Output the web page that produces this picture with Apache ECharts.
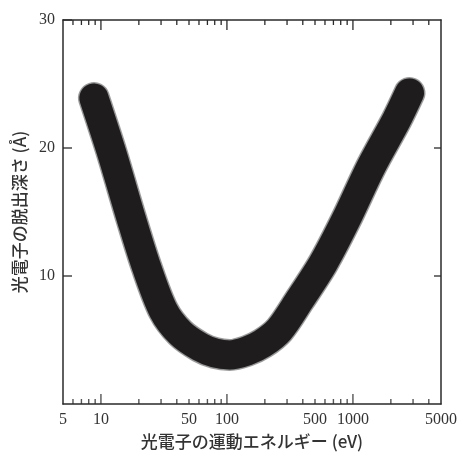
<!DOCTYPE html>
<html>
<head>
<meta charset="utf-8">
<script src="https://cdn.jsdelivr.net/npm/echarts@6/dist/echarts.min.js"></script>
<style>html,body{margin:0;padding:0;background:#fff;}#c{width:458px;height:452px;}</style>
</head>
<body>
<div id="c"></div>
<script>
// Kinetic energy of photoelectron (eV) and escape depth (Å) along the band centre
const energy = [8.8, 12.2, 17.5, 23.0, 31.3, 42.6, 61.3, 80.4, 105, 144, 192, 261, 376, 581, 881, 1387, 2220, 2810];
const depth  = [23.9, 19.6, 14.4, 10.7, 7.3, 5.55, 4.45, 3.98, 3.83, 4.14, 4.73, 5.8, 8.1, 11.0, 14.4, 18.5, 22.2, 24.3];
const xLabels = [5, 10, 50, 100, 500, 1000, 5000];
const xMajorTicks = [10, 100, 1000];
const xMinorTicks = [6, 7, 8, 9, 20, 30, 40, 50, 60, 70, 80, 90, 200, 300, 400, 500, 600, 700, 800, 900, 2000, 3000, 4000];
const yTicks = [10, 20, 30];
const yRightTicks = [10, 20];
const xName = '光電子の運動エネルギー (eV)';
const yName = '光電子の脱出深さ (Å)';
const xMin = 5, xMax = 5000, yMin = 0, yMax = 30;

const pts = energy.map((e, i) => [e, depth[i]]);
const ink = '#2a2a2a';
const numFont = '"Liberation Serif", "DejaVu Serif", serif';
const cjkFont = '"Noto Sans CJK JP", sans-serif';

const xTickList = xMajorTicks.map(v => [v, 10]).concat(xMinorTicks.map(v => [v, 5]));
const yTickList = yTicks.map(v => [xMin, v, 9]).concat(yRightTicks.map(v => [xMax, v, -7]));

const frame = { show: true, onZero: false, lineStyle: { color: ink, width: 1.5 } };

// bottom inward ticks as small bar-shaped symbols anchored at y = yMin
const bottomTickPts = xTickList.map(([v, len]) => ({
  value: [v, yMin],
  symbolSize: [1.4, len],
  symbolOffset: [0, -len / 2]
}));

const chart = echarts.init(document.getElementById('c'), null, { renderer: 'canvas' });
chart.setOption({
  animation: false,
  backgroundColor: '#fff',
  grid: { left: 63, right: 17, top: 20, bottom: 48, containLabel: false, outerBoundsMode: 'none', show: false },
  xAxis: [
    {
      type: 'log', logBase: 10, min: xMin, max: xMax, position: 'bottom',
      axisLine: frame, axisTick: { show: false }, splitLine: { show: false },
      axisLabel: { show: true, customValues: xLabels, margin: 8, color: '#333', fontFamily: numFont, fontSize: 16,
        formatter: v => String(Math.round(v)) },
      name: xName, nameLocation: 'middle', nameGap: 29,
      nameTextStyle: { fontFamily: cjkFont, fontSize: 17, color: '#333', fontWeight: 500 }
    },
    {
      type: 'log', logBase: 10, min: xMin, max: xMax, position: 'top',
      axisLine: frame, axisTick: { show: false }, splitLine: { show: false }, axisLabel: { show: false }
    }
  ],
  yAxis: [
    {
      type: 'value', min: yMin, max: yMax, interval: 10, position: 'left',
      axisLine: frame, axisTick: { show: false }, splitLine: { show: false },
      axisLabel: { show: true, customValues: yTicks, margin: 8, color: '#333', fontFamily: numFont, fontSize: 16 },
      name: yName, nameLocation: 'middle', nameGap: 27,
      nameTextStyle: { fontFamily: cjkFont, fontSize: 17, color: '#333', fontWeight: 500 }
    },
    {
      type: 'value', min: yMin, max: yMax, interval: 10, position: 'right',
      axisLine: frame, axisTick: { show: false }, splitLine: { show: false }, axisLabel: { show: false }
    }
  ],
  series: [
    {
      type: 'line', data: pts, xAxisIndex: 0, yAxisIndex: 0, symbol: 'none', smooth: 0.3,
      lineStyle: { color: 'rgba(30,30,30,0.4)', width: 32, cap: 'round', join: 'round' },
      z: 1, silent: true
    },
    {
      type: 'line', data: pts, xAxisIndex: 0, yAxisIndex: 0, symbol: 'none', smooth: 0.3,
      lineStyle: { color: '#1e1c1d', width: 29, cap: 'round', join: 'round', shadowColor: 'rgba(0,0,0,0.4)', shadowBlur: 2 },
      z: 2, silent: true
    },
    {
      type: 'scatter', data: bottomTickPts, xAxisIndex: 0, yAxisIndex: 0, symbol: 'rect',
      itemStyle: { color: ink }, clip: false, silent: true, z: 20, zlevel: 2
    }
  ]
});

// remaining inward tick marks (top, left, right), placed through the chart's own axis scales
const g = [];
const toPx = (x, y) => chart.convertToPixel({ xAxisIndex: 0, yAxisIndex: 0 }, [x, y]);
const yTop = toPx(xMin, yMax)[1];
xTickList.forEach(([v, len]) => {
  const x = toPx(v, yMax)[0];
  g.push({ type: 'line', zlevel: 1, z: 100, silent: true, shape: { x1: x, y1: yTop, x2: x, y2: yTop + len }, style: { stroke: ink, lineWidth: 1.3 } });
});
yTickList.forEach(([side, v, dx]) => {
  const p = toPx(side, v);
  g.push({ type: 'line', zlevel: 1, z: 100, silent: true, shape: { x1: p[0], y1: p[1], x2: p[0] + dx, y2: p[1] }, style: { stroke: ink, lineWidth: 1.3 } });
});
chart.setOption({ graphic: { elements: g } });
</script>
</body>
</html>
